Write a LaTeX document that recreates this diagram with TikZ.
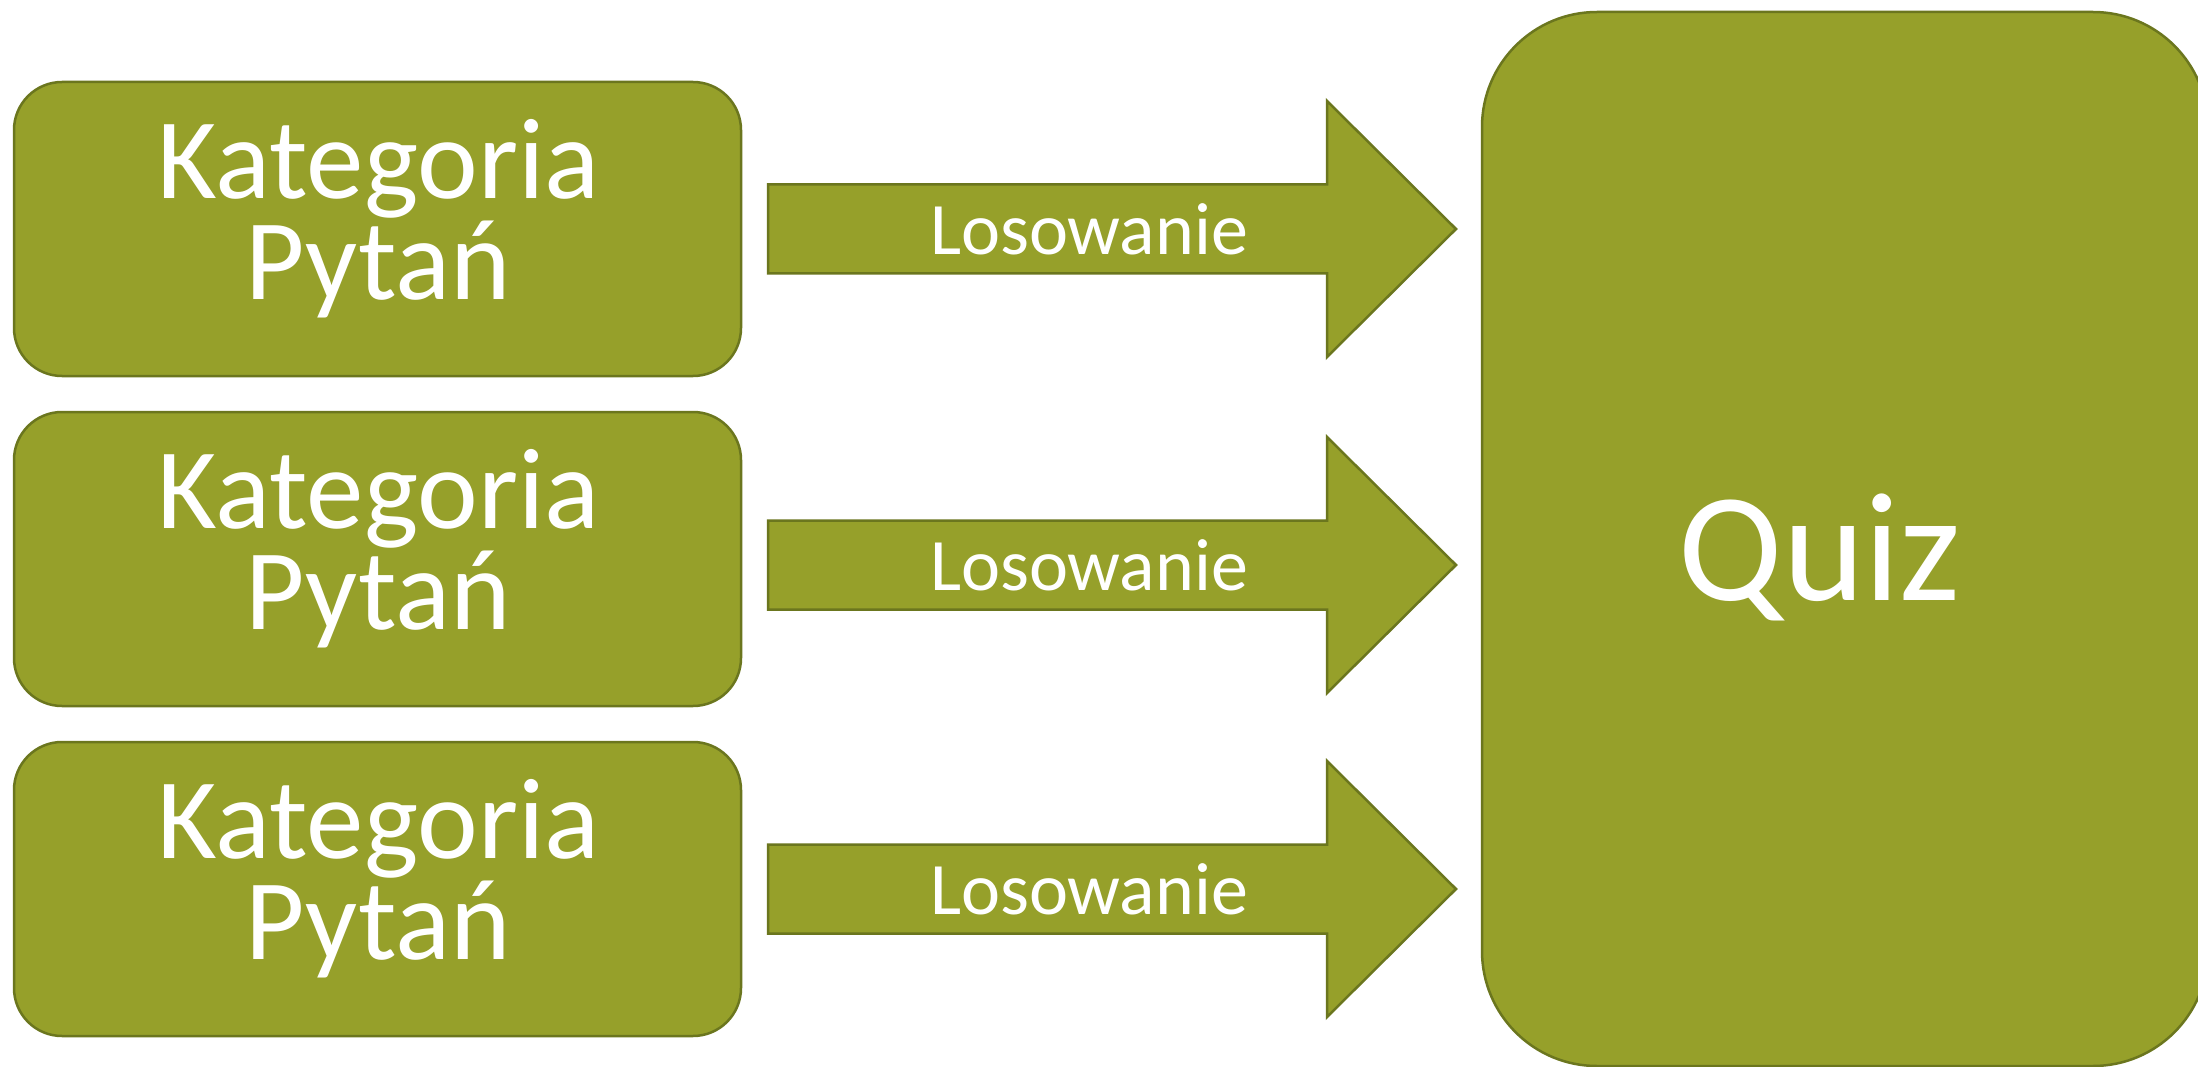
\documentclass[tikz,border=0pt]{standalone}
\usepackage{fontspec}
\setmainfont{Carlito}
\definecolor{olivefill}{RGB}{150,160,42}
\definecolor{oliveline}{RGB}{107,118,30}
\tikzset{
  blk/.style={fill=olivefill, draw=oliveline, line width=2.5pt},
  catbox/.style={blk, rounded corners=48pt, minimum width=727pt, minimum height=294pt, inner sep=0pt},
  quizbox/.style={blk, rounded corners=115pt, minimum width=726pt, minimum height=1054pt, inner sep=0pt},
  cattext/.style={text=white, align=center, inner sep=0pt, font=\fontsize{115pt}{101pt}\selectfont},
  arrtext/.style={text=white, inner sep=0pt, anchor=base, font=\fontsize{74pt}{88pt}\selectfont},
  quiztext/.style={text=white, inner sep=0pt, anchor=base, font=\fontsize{155pt}{180pt}\selectfont}
}
\begin{document}
\begin{tikzpicture}[x=1pt,y=-1pt]
\useasboundingbox (0,0) rectangle (2198,1067);
\fill[white] (0,0) rectangle (2198,1067);
% category boxes
\foreach \i/\yc in {1/229,2/559,3/889}{
  \node[catbox] (cat\i) at (377.5,\yc) {};
  \node[cattext] (cat\i t) at (378.5,\yc-10.5) {Kategoria\\Pytań};
}
% block arrows
\foreach \i/\yc in {1/229,2/565,3/889}{
  \coordinate (a\i tail) at (768,\yc);
  \coordinate (a\i tip) at (1456,\yc);
  \draw[blk, line join=miter] (768,\yc-44.5) -- (1327,\yc-44.5) -- (1327,\yc-128)
     -- (a\i tip) -- (1327,\yc+128) -- (1327,\yc+44.5) -- (768,\yc+44.5) -- cycle;
  \node[arrtext] (los\i) at (1089,\yc+25.5) {Losowanie};
}
% quiz box
\node[quizbox] (quiz) at (1845,539) {};
\node[quiztext] (quizt) at (1820,600) {Quiz};
\end{tikzpicture}
\end{document}
